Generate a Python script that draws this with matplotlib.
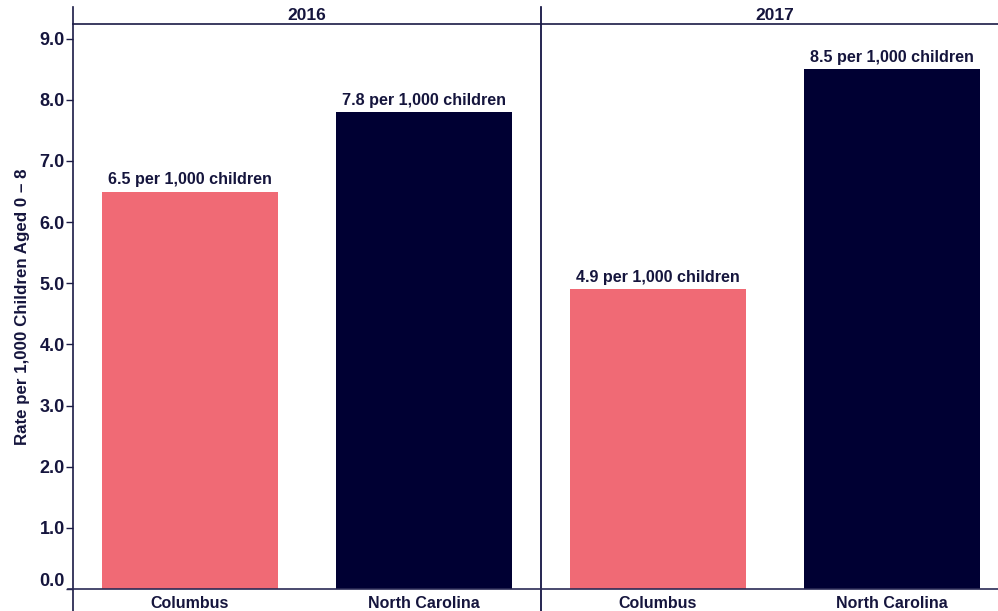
import matplotlib
matplotlib.use("Agg")
import matplotlib.pyplot as plt
import matplotlib.transforms as mtrans
from matplotlib.lines import Line2D

years = ["2016", "2017"]
categories = ["Columbus", "North Carolina"]
values = {"2016": [6.5, 7.8], "2017": [4.9, 8.5]}
bar_labels = {"2016": ["6.5 per 1,000 children", "7.8 per 1,000 children"],
              "2017": ["4.9 per 1,000 children", "8.5 per 1,000 children"]}
yticks = [0, 1, 2, 3, 4, 5, 6, 7, 8, 9]
colors = ["#F06A75", "#000033"]
ylabel = "Rate per 1,000 Children Aged 0 \u2013 8"

txt = "#15153d"
line_c = "#1a1a45"
plt.rcParams['font.family'] = ['Liberation Sans', 'DejaVu Sans']
plt.rcParams['font.weight'] = 'bold'

W, H = 998, 611
fig = plt.figure(figsize=(W / 100, H / 100), dpi=100)

def fx(px):
    return px / W

def fy(py):
    return 1 - py / H

left_px, div_px, panel_w = 73, 541, 468
top_px, base_px = 24, 589
ymax = 9.24

for i, yr in enumerate(years):
    x0 = left_px + i * panel_w
    ax = fig.add_axes([fx(x0), fy(base_px), fx(panel_w), fy(top_px) - fy(base_px)])
    xs = [0, 1]
    ax.bar(xs, values[yr], width=0.75, color=colors, zorder=2)
    ax.set_xlim(-0.5, 1.5)
    ax.set_ylim(0, ymax)
    for x, v, lab in zip(xs, values[yr], bar_labels[yr]):
        ax.annotate(lab, (x, v), xytext=(0, 3), textcoords="offset points",
                    ha="center", va="bottom", fontsize=11.6, fontweight="bold", color=txt)
    ax.set_xticks(xs)
    ax.set_xticklabels(categories, fontsize=11.5, fontweight="bold", color=txt)
    ax.tick_params(axis="x", length=0, pad=5)
    for s in ax.spines.values():
        s.set_visible(False)
    ax.set_facecolor("none")
    if i == 0:
        ax.set_yticks(yticks)
        ax.set_yticklabels([f"{t:.1f}" for t in yticks], fontsize=13, fontweight="bold", color=txt)
        ax.tick_params(axis="y", length=5, width=1, color=line_c, pad=1)
        lbls = ax.get_yticklabels()
        lbls[0].set_transform(lbls[0].get_transform() + mtrans.ScaledTranslation(0, 10 / 100, fig.dpi_scale_trans))
        ax.set_ylabel(ylabel, fontsize=12.2, fontweight="bold", color=txt, labelpad=7)
    else:
        ax.set_yticks([])
    fig.text(fx(x0 + panel_w / 2), fy(15), yr, ha="center", va="center",
             fontsize=12.5, fontweight="bold", color=txt)

# frame lines
fig.add_artist(Line2D([fx(left_px), fx(left_px)], [fy(7), fy(611)], color=line_c, lw=1.2))
fig.add_artist(Line2D([fx(div_px), fx(div_px)], [fy(7), fy(611)], color="#000033", lw=1.2))
fig.add_artist(Line2D([fx(left_px), 1], [fy(top_px), fy(top_px)], color=line_c, lw=1.2))
fig.add_artist(Line2D([fx(68), 1], [fy(base_px), fy(base_px)], color="#2a2a55", lw=1.2))

fig.savefig("out.png", dpi=100)
